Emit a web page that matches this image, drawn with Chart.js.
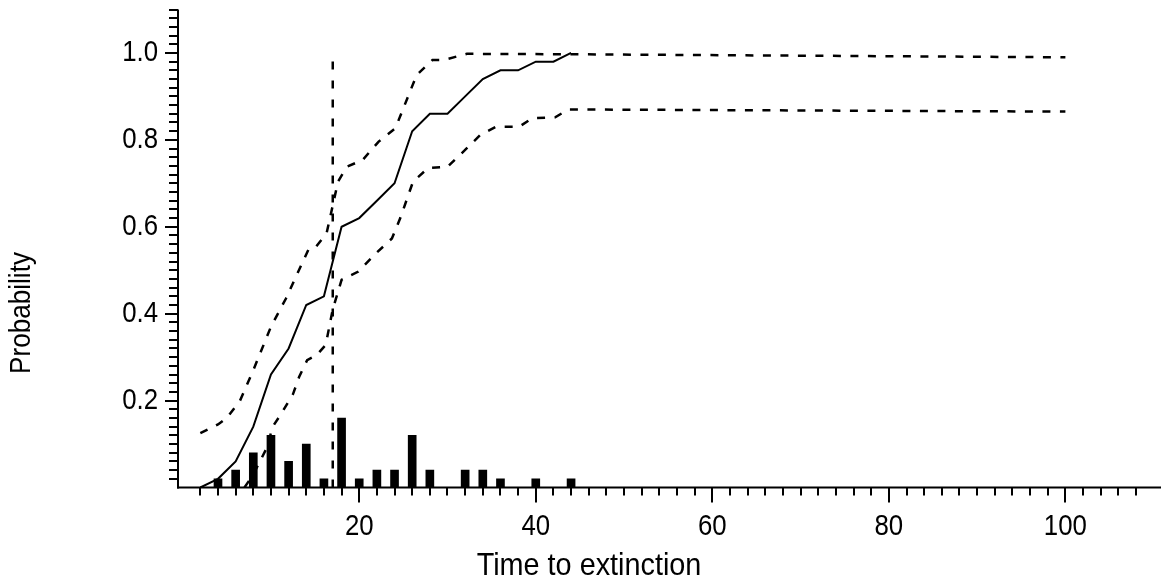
<!DOCTYPE html>
<html>
<head>
<meta charset="utf-8">
<script src="https://cdn.jsdelivr.net/npm/chart.js@4.4.1/dist/chart.umd.min.js"></script>
<style>
  html, body { margin: 0; padding: 0; background: #fff; }
  #wrap { width: 1161px; height: 579px; }
</style>
</head>
<body>
<div id="wrap"><canvas id="extinction-chart" width="1161" height="579"></canvas></div>
<script>
// Histogram of extinction times (proportion of runs per 2-step bin)
const histTimes = [4, 6, 8, 10, 12, 14, 16, 18, 20, 22, 24, 26, 28, 32, 34, 36, 40, 44];
const histProb = [0.02, 0.04, 0.08, 0.12, 0.06, 0.10, 0.02, 0.16, 0.02, 0.04, 0.04, 0.12, 0.04, 0.04, 0.04, 0.02, 0.02, 0.02];

// Cumulative probability of extinction
const cumTimes = [2, 4, 6, 8, 10, 12, 14, 16, 18, 20, 22, 24, 26, 28, 30, 32, 34, 36, 38, 40, 42, 44];
const cumProb = [0, 0.02, 0.06, 0.14, 0.26, 0.32, 0.42, 0.44, 0.60, 0.62, 0.66, 0.70, 0.82, 0.86, 0.86, 0.90, 0.94, 0.96, 0.96, 0.98, 0.98, 1.00];

// Upper and lower confidence bounds
const upperTimes = [2, 4, 5, 6.5, 8, 10, 11.7, 14.3, 15.1, 16.3, 17.6, 18.6, 20.4, 22.2, 24.1, 26.5, 28.3, 29.6, 32.2, 44, 100];
const upperProb = [0.125, 0.145, 0.16, 0.20, 0.27, 0.37, 0.435, 0.55, 0.554, 0.585, 0.704, 0.738, 0.754, 0.796, 0.827, 0.949, 0.984, 0.984, 0.998, 0.997, 0.99];
const lowerTimes = [7, 8, 9.5, 10.2, 11.2, 12.5, 13.2, 14.1, 15.2, 16.2, 17, 18, 19.9, 21.9, 23.7, 24.65, 26.1, 27.8, 30, 31.8, 33.7, 35.5, 38.1, 39.6, 42.2, 43.7, 100];
const lowerProb = [0, 0.03, 0.09, 0.14, 0.171, 0.215, 0.255, 0.293, 0.305, 0.328, 0.41, 0.478, 0.497, 0.539, 0.573, 0.62, 0.704, 0.735, 0.738, 0.773, 0.811, 0.83, 0.83, 0.85, 0.852, 0.87, 0.865];

// Median time to extinction marker
const medianTime = 17;
const medianTop = 0.99;

// Labelled ticks
const xTickLabels = [20, 40, 60, 80, 100];
const yTickLabels = [0.2, 0.4, 0.6, 0.8, 1.0];

const FONT = '"Liberation Sans", Arial, sans-serif';
const SQUEEZE = 0.86; // narrow the glyphs a little

function toPoints(xs, ys) {
  return xs.map((x, i) => ({ x: x, y: ys[i] }));
}

function narrowText(ctx, text, x, y, sx) {
  ctx.save();
  ctx.translate(x, y);
  ctx.scale(sx, 1);
  ctx.fillText(text, 0, 0);
  ctx.restore();
}

// Axis lines, tick marks, tick labels and axis titles
const axisMarks = {
  id: 'axisMarks',
  afterDraw(chart) {
    const { ctx, chartArea: a, scales: { x, y } } = chart;
    ctx.save();
    ctx.fillStyle = '#000';
    ctx.fillRect(a.left - 1, a.top, 2, a.bottom - a.top + 1);
    ctx.fillRect(a.left - 1, a.bottom - 1, a.right - a.left + 1, 2);

    x.ticks.forEach(t => {
      const px = Math.round(x.getPixelForValue(t.value));
      const len = xTickLabels.includes(t.value) ? 15 : 8;
      ctx.fillRect(px - 1, a.bottom, 2, len);
    });
    y.ticks.forEach(t => {
      if (t.value <= 0) return;
      const py = Math.round(y.getPixelForValue(t.value));
      const major = yTickLabels.some(v => Math.abs(v - t.value) < 1e-6);
      const len = major ? 13 : 9;
      ctx.fillRect(a.left - len, py - 1, len, 2);
    });

    ctx.font = '30px ' + FONT;
    ctx.textAlign = 'center';
    ctx.textBaseline = 'alphabetic';
    xTickLabels.forEach(v => {
      narrowText(ctx, String(v), x.getPixelForValue(v), a.bottom + 47.5, SQUEEZE);
    });

    ctx.textAlign = 'right';
    ctx.textBaseline = 'middle';
    yTickLabels.forEach(v => {
      narrowText(ctx, v.toFixed(1), a.left - 20, y.getPixelForValue(v), SQUEEZE);
    });

    ctx.font = '32px ' + FONT;
    ctx.textAlign = 'center';
    ctx.textBaseline = 'alphabetic';
    narrowText(ctx, 'Time to extinction', 589, 575, 0.9);

    ctx.font = '30px ' + FONT;
    ctx.translate(22, 313);
    ctx.rotate(-Math.PI / 2);
    ctx.textBaseline = 'middle';
    narrowText(ctx, 'Probability', 0, 0, 0.87);
    ctx.restore();
  }
};

const ctx = document.getElementById('extinction-chart').getContext('2d');
const lineStyle = { pointRadius: 0, borderColor: '#000', fill: false, tension: 0 };

new Chart(ctx, {
  type: 'bar',
  data: {
    datasets: [
      Object.assign({ type: 'line', data: toPoints(cumTimes, cumProb), borderWidth: 2 }, lineStyle),
      Object.assign({ type: 'line', data: toPoints(upperTimes, upperProb), borderWidth: 2.5, borderDash: [8, 9.5] }, lineStyle),
      Object.assign({ type: 'line', data: toPoints(lowerTimes, lowerProb), borderWidth: 2.5, borderDash: [8, 9.5] }, lineStyle),
      Object.assign({ type: 'line', data: [{ x: medianTime, y: 0 }, { x: medianTime, y: medianTop }], borderWidth: 2.5, borderDash: [8, 11] }, lineStyle),
      {
        type: 'bar',
        data: toPoints(histTimes, histProb),
        backgroundColor: '#000',
        borderWidth: 0,
        barThickness: 8
      }
    ]
  },
  options: {
    responsive: false,
    animation: false,
    layout: { padding: { top: 9.5, left: 0, right: 0, bottom: 0 } },
    plugins: { legend: { display: false }, tooltip: { enabled: false } },
    scales: {
      x: {
        type: 'linear',
        min: 0.5,
        max: 109.8,
        grid: { display: false, drawTicks: false },
        border: { display: false },
        ticks: { display: false, stepSize: 2, includeBounds: false, autoSkip: false },
        afterFit: s => { s.height = 91.5; }
      },
      y: {
        type: 'linear',
        min: 0,
        max: 1.1,
        grid: { display: false, drawTicks: false },
        border: { display: false },
        ticks: { display: false, stepSize: 0.02, includeBounds: false, autoSkip: false },
        afterFit: s => { s.width = 178; }
      }
    }
  },
  plugins: [axisMarks]
});
</script>
</body>
</html>
